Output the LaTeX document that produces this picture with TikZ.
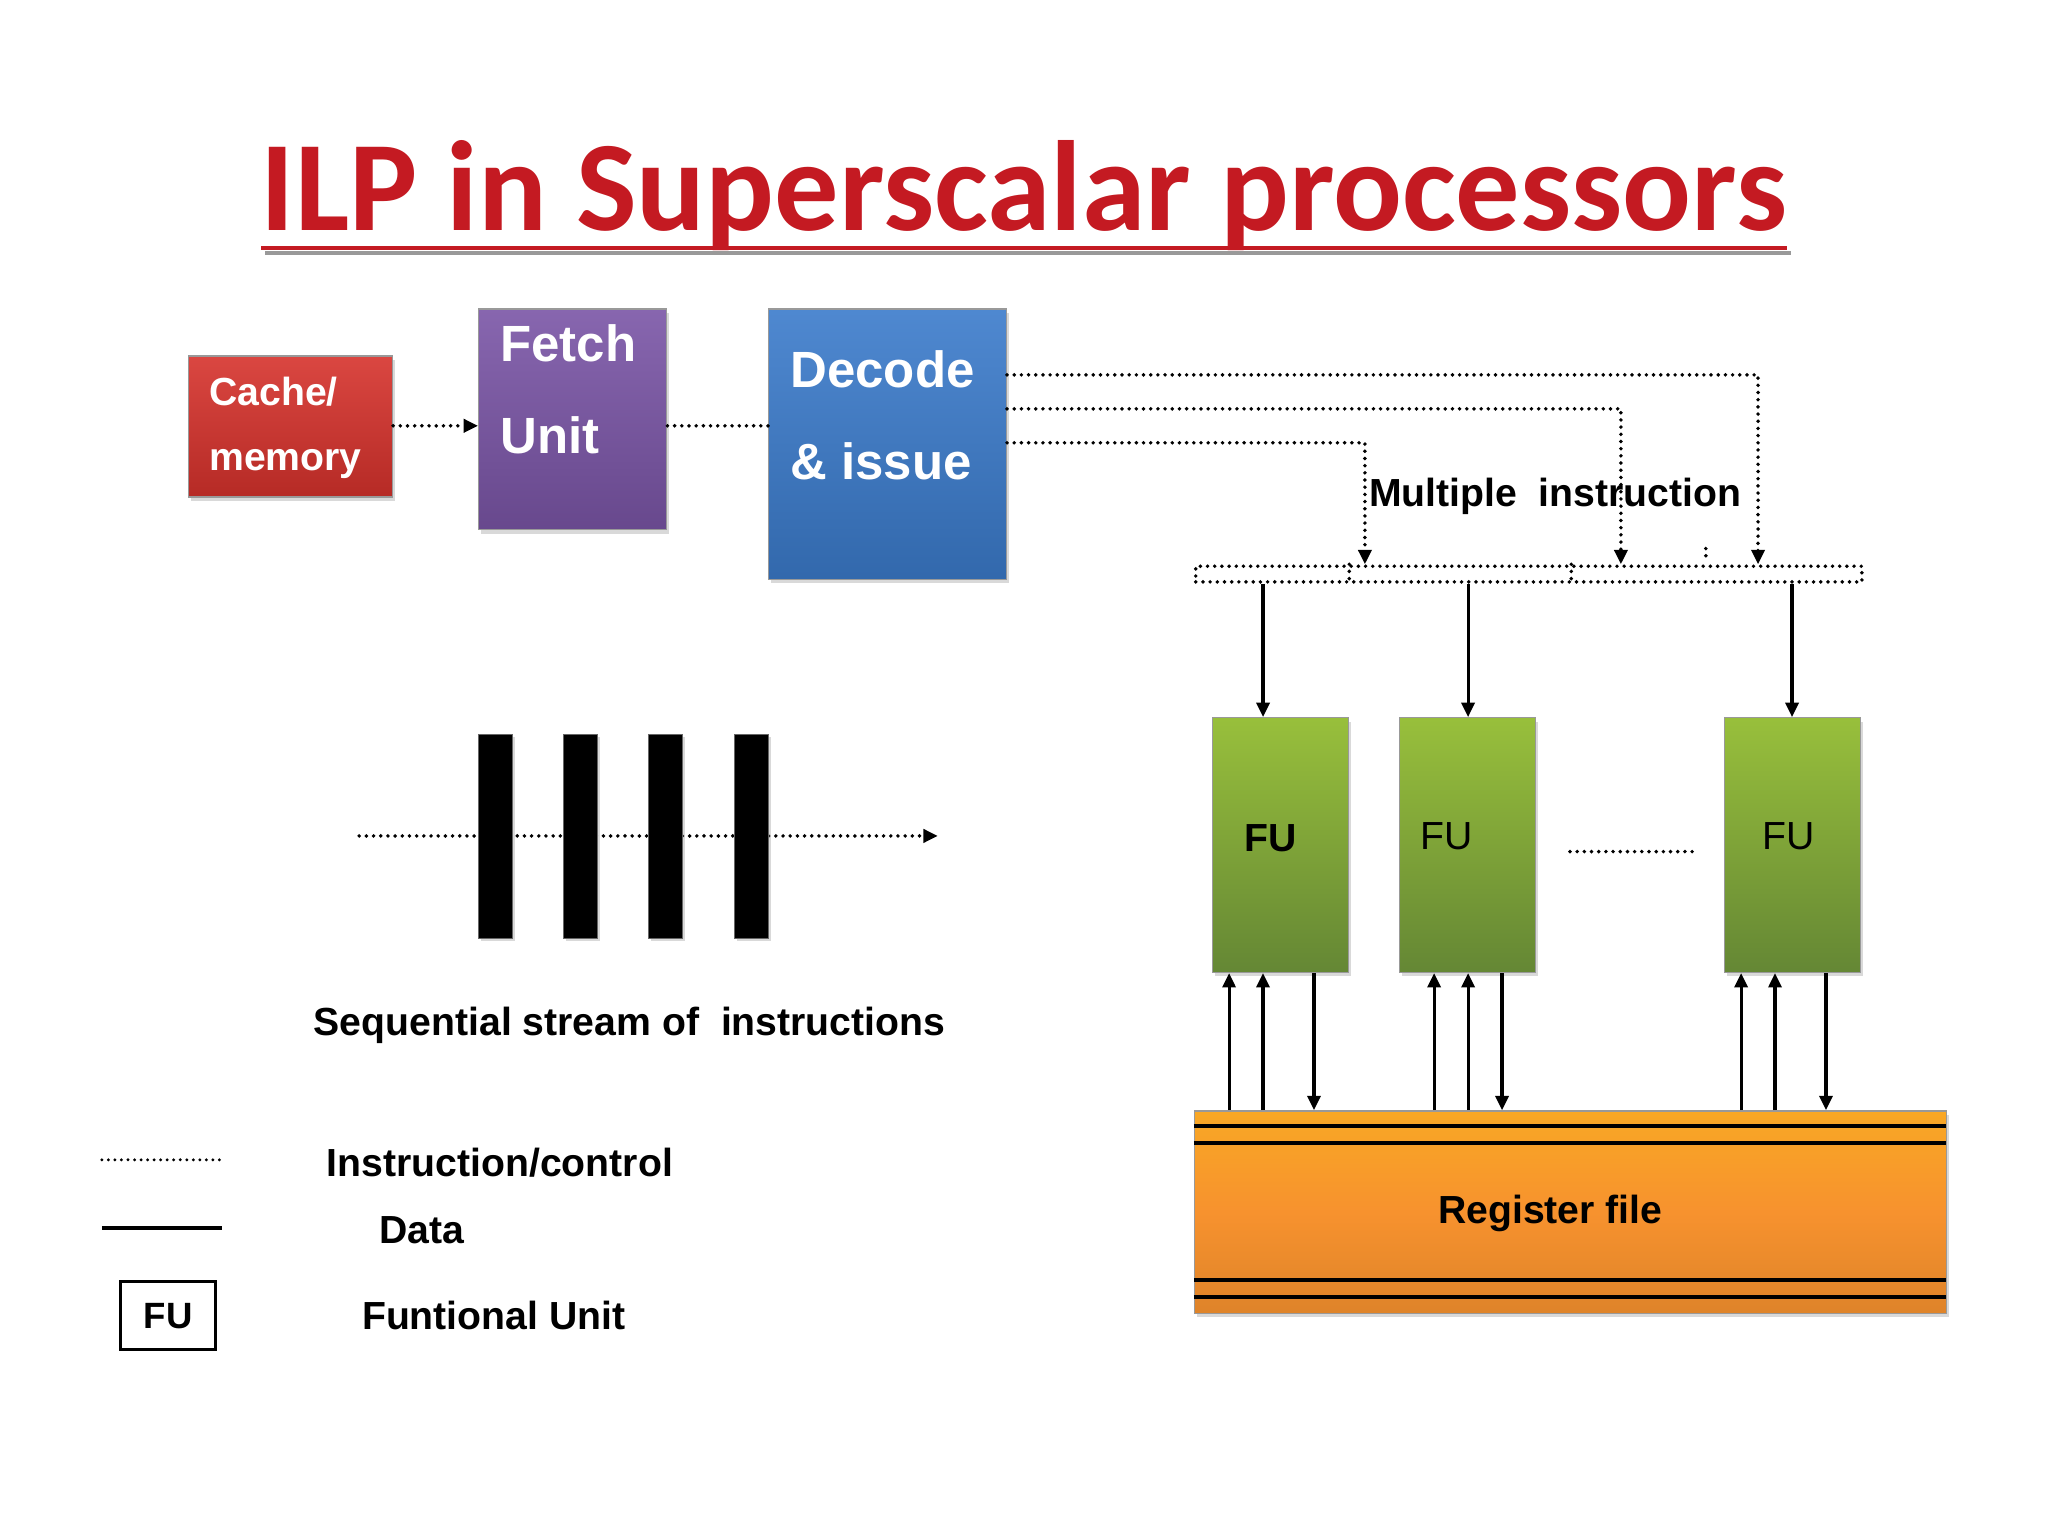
\documentclass[tikz,border=0pt]{standalone}
\usepackage{fontspec}
\usepackage{graphicx}
\setmainfont{Liberation Sans}
\newfontfamily\titlefont{Carlito}
\usetikzlibrary{arrows.meta,shadows}
\definecolor{tred}{HTML}{C41A22}
\definecolor{cred}{HTML}{D6322C}
\definecolor{fpurp}{HTML}{7A55A6}
\definecolor{dblue}{HTML}{3B7BCB}
\definecolor{fgreen}{HTML}{86B446}
\definecolor{rorange}{HTML}{F7922E}
\tikzset{
  dotl/.style={line width=3pt, dash pattern=on 0pt off 5.5pt, line cap=round},
  datal/.style={line width=2.4pt},
  tip/.style={-{Triangle[length=11pt,width=10pt]}},
  blk/.style={draw=black!40, line width=1pt, drop shadow={shadow xshift=2pt,shadow yshift=-3pt,opacity=0.3}},
  wt/.style={text=white, font=\bfseries\fontsize{39}{39}\selectfont, anchor=west, inner sep=0},
  fu/.style={blk, top color=fgreen!85!yellow, bottom color=fgreen!75!black, minimum width=104pt, minimum height=195pt, anchor=north west, inner sep=0},
  lbl/.style={font=\bfseries\fontsize{30}{30}\selectfont, inner sep=0},
}
\begin{document}
\begin{tikzpicture}[x=1pt,y=-1pt]
\useasboundingbox (0,0) rectangle (1568,1176);
% title
\draw[black!40, line width=3pt] (203,194) -- (1371,194);
\node[text=tred, inner sep=0] (title) at (784,150) {\resizebox{1168pt}{!}{\titlefont\bfseries ILP in Superscalar processors}};
\draw[tred, line width=3.5pt] (200,190) -- (1368,190);
% top blocks
\node[blk, top color=cred!90!white, bottom color=cred!85!black, minimum width=156pt, minimum height=108pt, anchor=north west, inner sep=0] (cache) at (144,272) {};
\node[wt, font=\bfseries\fontsize{30}{30}\selectfont] (ct1) at (160,300) {Cache/};
\node[wt, font=\bfseries\fontsize{30}{30}\selectfont] (ct2) at (160,355) {memory};
\node[blk, top color=fpurp!90!white, bottom color=fpurp!85!black, minimum width=144pt, minimum height=169pt, anchor=north west, inner sep=0] (fetch) at (366,236) {};
\node[wt] (ft1) at (383,263) {Fetch};
\node[wt] (ft2) at (383,333) {Unit};
\node[blk, top color=dblue!90!white, bottom color=dblue!85!black, minimum width=182pt, minimum height=207pt, anchor=north west, inner sep=0] (dec) at (588,236) {};
\node[wt] (dt1) at (605,283) {Decode};
\node[wt] (dt2) at (605,353) {\&\ issue};
\draw[dotl, tip] (cache.east |- 0,326) -- (fetch.west |- 0,326);
\draw[dotl] (fetch.east |- 0,326) -- (dec.west |- 0,326);
% dotted bus
\node[draw, dotl, minimum width=510pt, minimum height=12pt, anchor=north west, inner sep=0] (bus) at (914,432) {};
\coordinate (b1) at (1045,432);
\coordinate (b2) at (1241,432);
\coordinate (b3) at (1346,432);
\draw[dotl, tip] (dec.east |- 0,287) -- (1346,287) -- (b3);
\draw[dotl, tip] (dec.east |- 0,313) -- (1241,313) -- (b2);
\draw[dotl, tip] (dec.east |- 0,339) -- (1045,339) -- (b1);
\draw[dotl] (1033,432) -- (1033,444);
\draw[dotl] (1203,432) -- (1203,444);
\draw[dotl] (1306,420) -- (1306,426);
\node[lbl, anchor=west] (mi) at (1048,380) {Multiple\ \ instruction};
% FUs
\node[fu] (fu1) at (928,549) {};
\node[fu] (fu2) at (1071,549) {};
\node[fu] (fu3) at (1320,549) {};
\node[font=\bfseries\fontsize{30}{30}\selectfont] at ([xshift=-8pt]fu1.center |- 0,642) {FU};
\node[font=\fontsize{30}{30}\selectfont] at ([xshift=-16pt]fu2.center |- 0,640) {FU};
\node[font=\fontsize{30}{30}\selectfont] at ([xshift=-3pt]fu3.center |- 0,640) {FU};
\draw[datal, tip] (bus.south -| 967,0) -- (fu1.north -| 967,0);
\draw[datal, tip] (bus.south -| 1124,0) -- (fu2.north -| 1124,0);
\draw[datal, tip] (bus.south -| 1372,0) -- (fu3.north -| 1372,0);
\draw[dotl] (1202,652) -- (1296,652);
% register file
\node[blk, top color=rorange!80!yellow, bottom color=rorange!90!black, middle color=rorange, minimum width=576pt, minimum height=155pt, anchor=north west, inner sep=0] (reg) at (914,850) {};
\foreach \yy in {862,875,980,993} \draw[line width=3pt] (914,\yy) -- (1490,\yy);
\node[lbl] (regt) at (1187,929) {Register file};
\foreach \xx in {941,967,1098,1124,1333,1359}
  \draw[datal, tip] (reg.north -| \xx,0) -- (fu1.south -| \xx,0);
\foreach \xx in {1006,1150,1398}
  \draw[datal, tip] (fu1.south -| \xx,0) -- (reg.north -| \xx,0);
% sequential stream
\coordinate (s0) at (275,640);
\coordinate (s1) at (718,640);
\draw[dotl, tip] (s0) -- (s1);
\foreach \xx [count=\i] in {366,431,496,562}
  \node[fill=black, draw=black!60, minimum width=26pt, minimum height=156pt, anchor=north west, inner sep=0, drop shadow={shadow xshift=2pt,shadow yshift=-2pt,opacity=0.3}] (bar\i) at (\xx,562) {};
\node[lbl] (seq) at (482,785) {Sequential stream of\ \ instructions};
% legend
\coordinate (l1a) at (78,888); \coordinate (l1b) at (172,888);
\draw[line width=2.5pt, dash pattern=on 0pt off 5pt, line cap=round] (l1a) -- (l1b);
\coordinate (l2a) at (78,940); \coordinate (l2b) at (170,940);
\draw[line width=3pt] (l2a) -- (l2b);
\node[draw, line width=2.5pt, minimum width=73pt, minimum height=52pt, anchor=north west, inner sep=0, font=\bfseries\fontsize{28}{28}\selectfont] (lfu) at (91,980) {FU};
\node[lbl, anchor=west] (lt1) at (250,890) {Instruction/control};
\node[lbl, anchor=west] (lt2) at (290,942) {Data};
\node[lbl, anchor=west] (lt3) at (277,1007) {Funtional Unit};
\end{tikzpicture}
\end{document}
